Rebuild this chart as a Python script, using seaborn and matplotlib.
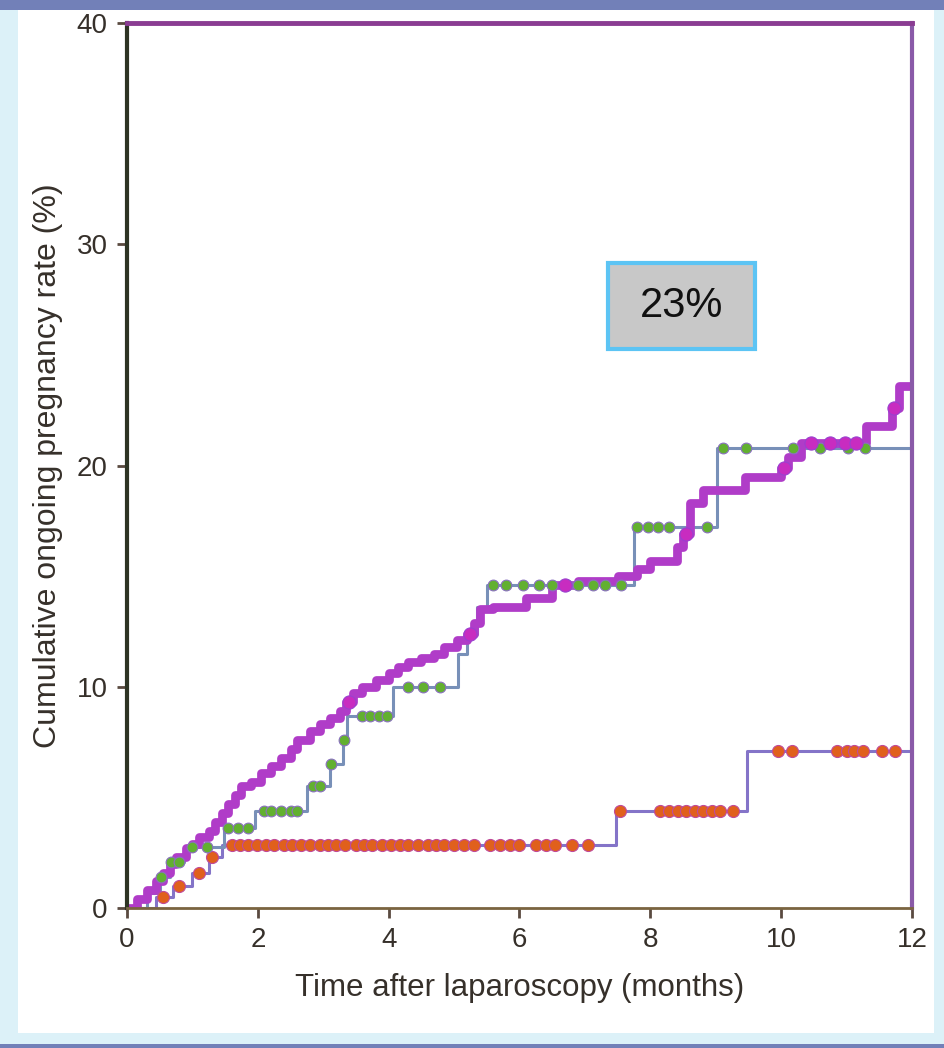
import numpy as np
import matplotlib
matplotlib.use("Agg")
import matplotlib.pyplot as plt
import seaborn as sns
from matplotlib.patches import Rectangle

# ---------------- data ----------------
x_ticks = [0, 2, 4, 6, 8, 10, 12]
y_ticks = [0, 10, 20, 30, 40]
x_label = "Time after laparoscopy (months)"
y_label = "Cumulative ongoing pregnancy rate (%)"
box_text = "23%"

# thick purple curve (step times in months, cumulative rate in %)
purple_t = [0, 0.15, 0.3, 0.45, 0.55, 0.65, 0.75, 0.9, 1.0, 1.1, 1.25, 1.35, 1.45,
            1.55, 1.65, 1.75, 1.9, 2.05, 2.2, 2.35, 2.5, 2.6, 2.8, 2.95, 3.1, 3.25,
            3.35, 3.45, 3.6, 3.8, 4.0, 4.15, 4.3, 4.5, 4.7, 4.85, 5.05, 5.2, 5.3,
            5.4, 5.6, 6.1, 6.5, 6.9, 7.5, 7.8, 8.0, 8.4, 8.5, 8.6, 8.8, 9.45, 10.0,
            10.1, 10.3, 11.3, 11.7, 11.8, 12.0]
purple_y = [0, 0.4, 0.8, 1.2, 1.6, 2.0, 2.3, 2.7, 2.9, 3.2, 3.5, 3.9, 4.3,
            4.7, 5.1, 5.5, 5.7, 6.1, 6.4, 6.8, 7.2, 7.6, 8.0, 8.3, 8.6, 8.9,
            9.3, 9.7, 10.0, 10.3, 10.6, 10.9, 11.1, 11.3, 11.5, 11.8, 12.1, 12.4, 12.9,
            13.5, 13.6, 14.0, 14.6, 14.8, 15.0, 15.3, 15.7, 16.3, 16.9, 18.3, 18.9, 19.5, 19.9,
            20.4, 21.0, 21.8, 22.6, 23.6, 23.6]
purple_marks = [3.4, 5.25, 6.7, 8.55, 10.05, 10.45, 10.75, 10.97, 11.14, 11.72]

# thin blue-grey curve with green censor marks
teal_t = [0, 0.3, 0.5, 0.66, 0.87, 1.48, 1.96, 2.75, 3.1, 3.3, 3.36, 4.07, 5.06,
          5.2, 5.35, 5.5, 7.75, 9.02, 12.0]
teal_y = [0, 0.7, 1.4, 2.1, 2.75, 3.6, 4.4, 5.5, 6.5, 7.6, 8.7, 10.0, 11.5,
          12.4, 13.6, 14.6, 17.2, 20.8, 20.8]
teal_marks = [0.52, 0.68, 0.8, 1.0, 1.22, 1.55, 1.7, 1.85, 2.1, 2.2, 2.35, 2.5, 2.6,
              2.85, 2.95, 3.12, 3.31, 3.6, 3.72, 3.85, 3.98, 4.3, 4.52, 4.78,
              5.6, 5.8, 6.05, 6.3, 6.5, 6.72, 6.9, 7.12, 7.3, 7.55,
              7.8, 7.97, 8.12, 8.28, 8.87, 9.11, 9.46, 10.18, 10.6, 11.02, 11.28]

# thin curve with orange censor marks
orange_t = [0, 0.45, 0.7, 1.0, 1.25, 1.45, 7.48, 9.48, 12.0]
orange_y = [0, 0.5, 1.0, 1.6, 2.3, 2.85, 4.4, 7.1, 7.1]
orange_marks = [0.55, 0.8, 1.1, 1.3, 1.6, 1.72, 1.85, 1.98, 2.12, 2.25, 2.4, 2.52,
                2.66, 2.8, 2.95, 3.08, 3.2, 3.33, 3.5, 3.62, 3.75, 3.9, 4.03,
                4.18, 4.3, 4.45, 4.6, 4.72, 4.85, 5.0, 5.15, 5.3, 5.55, 5.7,
                5.85, 6.0, 6.25, 6.4, 6.55, 6.8, 7.05,
                7.53, 8.15, 8.28, 8.42, 8.55, 8.68, 8.8, 8.95, 9.07, 9.27,
                9.95, 10.16, 10.85, 11.0, 11.12, 11.25, 11.54, 11.74]


def step_value(ts, ys, t):
    i = np.searchsorted(ts, t, side="right") - 1
    return ys[i]


sns.set_theme(style="white")
plt.rcParams["font.family"] = ["Liberation Sans", "DejaVu Sans"]
TEXT = "#36302a"

fig = plt.figure(figsize=(9.45, 10.48), dpi=100)
fig.patch.set_facecolor("white")
# slide-like frame
fig.patches.append(Rectangle((0, 0), 1, 1, transform=fig.transFigure,
                             facecolor="#dcf1f8", edgecolor="none", zorder=-10))
fig.patches.append(Rectangle((0.019, 0.0143), 0.969, 0.977, transform=fig.transFigure,
                             facecolor="white", edgecolor="none", zorder=-9))
fig.patches.append(Rectangle((0, 0.9905), 1, 0.0095, transform=fig.transFigure,
                             facecolor="#7280b8", edgecolor="none", zorder=-8))
fig.patches.append(Rectangle((0, 0), 1, 0.0040, transform=fig.transFigure,
                             facecolor="#7280b8", edgecolor="none", zorder=-8))

ax = fig.add_axes([127 / 945, 1 - 908 / 1048, (912 - 127) / 945, (908 - 23) / 1048])
ax.set_facecolor("white")

line_kw = dict(drawstyle="steps-post", estimator=None, sort=False)
sns.lineplot(x=orange_t, y=orange_y, ax=ax, color="#8474c8", linewidth=2.2, zorder=3, **line_kw)
sns.lineplot(x=teal_t, y=teal_y, ax=ax, color="#7890b8", linewidth=2.2, zorder=3, **line_kw)
sns.lineplot(x=purple_t, y=purple_y, ax=ax, color="#b03cc8", linewidth=6.3, zorder=4, **line_kw)

pt, py = np.array(purple_t), np.array(purple_y)
tt, ty = np.array(teal_t), np.array(teal_y)
ot, oy = np.array(orange_t), np.array(orange_y)

sns.scatterplot(x=orange_marks, y=[step_value(ot, oy, t) for t in orange_marks], ax=ax,
                color="#e0601c", s=75, edgecolor="#c04a9a", linewidth=0.8, zorder=5)
sns.scatterplot(x=teal_marks, y=[step_value(tt, ty, t) for t in teal_marks], ax=ax,
                color="#62b030", s=60, edgecolor="#8a70c0", linewidth=0.8, zorder=6)
sns.scatterplot(x=purple_marks, y=[step_value(pt, py, t) for t in purple_marks], ax=ax,
                color="#c82cc0", s=90, edgecolor="#9a40d0", linewidth=0.8, zorder=6)

ax.set_xlim(0, 12)
ax.set_ylim(0, 40)
ax.set_xticks(x_ticks)
ax.set_yticks(y_ticks)
ax.set_xticklabels([str(v) for v in x_ticks])
ax.set_yticklabels([str(v) for v in y_ticks])
ax.tick_params(axis="both", which="major", direction="out", length=7, width=2,
               color="#5a4a40", labelsize=20, labelcolor=TEXT, pad=7,
               bottom=True, left=True)
ax.set_xlabel(x_label, fontsize=22.5, color=TEXT, labelpad=14)
ax.set_ylabel(y_label, fontsize=23, color=TEXT, labelpad=10)

ax.spines["left"].set_color("#2e3424")
ax.spines["left"].set_linewidth(3)
ax.spines["top"].set_color("#8a3c92")
ax.spines["top"].set_linewidth(3.5)
ax.spines["right"].set_color("#8a5aa8")
ax.spines["right"].set_linewidth(3)
ax.spines["bottom"].set_color("#7a6440")
ax.spines["bottom"].set_linewidth(2)
for s in ax.spines.values():
    s.set_visible(True)
    s.set_zorder(7)

# "23%" callout box
ax.add_patch(Rectangle((7.35, 25.27), 2.25, 3.88, facecolor="#c8c8c8",
                       edgecolor="#5cc4f4", linewidth=3, zorder=8))
ax.text(8.475, 27.2, box_text, ha="center", va="center", fontsize=30,
        color="#111111", zorder=9)

fig.savefig("out.png", dpi=100)
